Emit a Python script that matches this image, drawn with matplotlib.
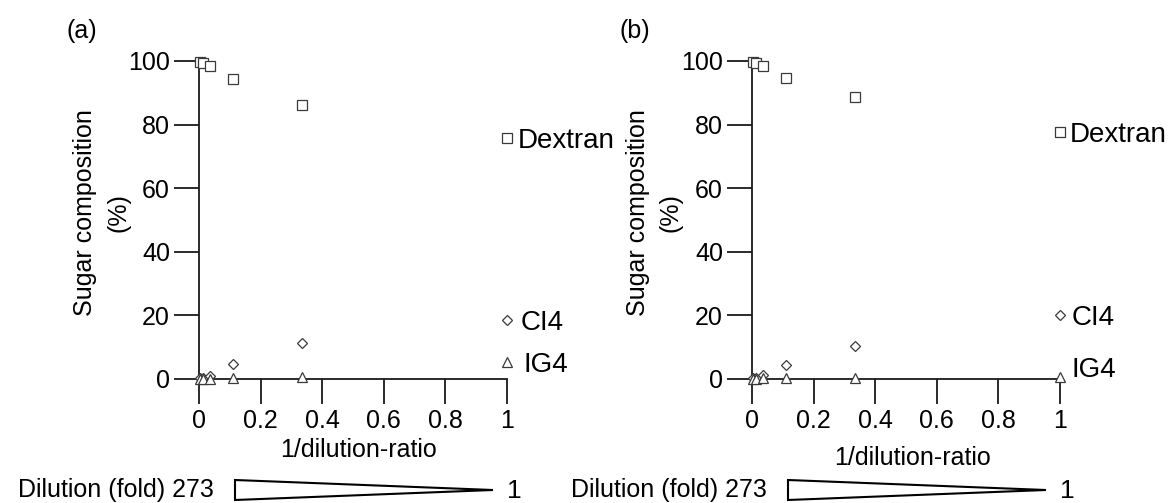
import matplotlib
matplotlib.use("Agg")
import matplotlib.pyplot as plt
from matplotlib.patches import Polygon

plt.rcParams["font.family"] = ["Liberation Sans", "DejaVu Sans"]

# Dilution series (fold) and the resulting 1/dilution-ratio
dilution_fold = [273, 81, 27, 9, 3, 1]
inv_ratio = [1.0 / d for d in dilution_fold]

# Sugar composition (%) for panel (a)
dextran_a = [99.6, 99.4, 98.5, 94.3, 86.2, 75.9]
ci4_a = [0.2, 0.3, 0.9, 4.6, 11.4, 18.4]
ig4_a = [0.1, 0.1, 0.1, 0.2, 0.7, 5.4]

# Sugar composition (%) for panel (b)
dextran_b = [99.7, 99.5, 98.4, 94.6, 88.6, 77.8]
ci4_b = [0.2, 0.3, 1.2, 4.4, 10.4, 20.1]
ig4_b = [0.1, 0.1, 0.3, 0.2, 0.3, 0.7]

series_names = ["Dextran", "CI4", "IG4"]
panel_labels = ["(a)", "(b)"]
x_ticks = [0, 0.2, 0.4, 0.6, 0.8, 1]
x_tick_labels = ["0", "0.2", "0.4", "0.6", "0.8", "1"]
y_ticks = [0, 20, 40, 60, 80, 100]
y_tick_labels = ["0", "20", "40", "60", "80", "100"]
dilution_ends = ["273", "1"]

W, H = 1175, 503
fig = plt.figure(figsize=(W / 100, H / 100), dpi=100)
fig.patch.set_facecolor("white")


def fx(x):
    return x / W


def fy(y):
    return 1 - y / H


def pt(p):
    # pixels -> points at 100 dpi
    return p * 0.72


EDGE = "#3a3a3a"
AXC = "#1a1a1a"
markers = [("s", 7.6), ("D", 4.6), ("^", 6.8)]

# per panel: x shift, data, label offsets (dx px, dy px), x-label baseline
panels = [
    (0, [dextran_a, ci4_a, ig4_a], [(11, 0), (14, 0), (16, 0)], 457),
    (553, [dextran_b, ci4_b, ig4_b], [(10, 0), (12, 0), (12, 10)], 465),
]

for (dx, data, offs, xlab_base), plabel in zip(panels, panel_labels):
    ax = fig.add_axes([fx(199 + dx), fy(379), fx(308), 318 / H])
    ax.set_xlim(0, 1)
    ax.set_ylim(0, 100)
    for side in ("top", "right"):
        ax.spines[side].set_visible(False)
    for side in ("left", "bottom"):
        ax.spines[side].set_linewidth(1.3)
        ax.spines[side].set_color(AXC)
    ax.set_xticks(x_ticks)
    ax.set_xticklabels(x_tick_labels)
    ax.set_yticks(y_ticks)
    ax.set_yticklabels(y_tick_labels)
    ax.tick_params(direction="out", length=18, width=1.3, color=AXC,
                   labelsize=18)
    ax.tick_params(axis="x", pad=3.4)
    ax.tick_params(axis="y", pad=2.8)
    ax.patch.set_alpha(0)

    for vals, (m, ms), name, (ox, oy) in zip(data, markers, series_names, offs):
        ax.plot(inv_ratio, vals, linestyle="none", marker=m, markersize=ms,
                markerfacecolor="white", markeredgecolor=EDGE,
                markeredgewidth=0.9, clip_on=False, zorder=5)
        # label sits beside the undiluted point, cap height centred on it
        ax.annotate(name, xy=(inv_ratio[-1], vals[-1]),
                    xytext=(pt(ox), pt(oy - 10)),
                    textcoords="offset points", ha="left", va="baseline",
                    fontsize=20, annotation_clip=False)

    fig.text(fx(66 + dx), fy(38), plabel, ha="left", va="baseline",
             fontsize=18)
    fig.text(fx(92 + dx), fy(213), "Sugar composition", rotation=90,
             rotation_mode="anchor", ha="center", va="baseline", fontsize=18)
    fig.text(fx(125 + dx), fy(213), "(%)", rotation=90,
             rotation_mode="anchor", ha="center", va="baseline", fontsize=18)
    fig.text(fx(359 + dx), fy(xlab_base), "1/dilution-ratio", ha="center",
             va="baseline", fontsize=18)

    # Dilution wedge under each panel
    fig.text(fx(214 + dx), fy(497), "Dilution (fold) " + dilution_ends[0],
             ha="right", va="baseline", fontsize=18)
    wedge = Polygon([(fx(235 + dx), fy(480)), (fx(235 + dx), fy(500)),
                     (fx(493 + dx), fy(490))], closed=True, fill=False,
                    edgecolor="black", linewidth=1.5, joinstyle="miter",
                    transform=fig.transFigure)
    fig.patches.append(wedge)
    fig.text(fx(507 + dx), fy(497.5), dilution_ends[1], ha="left",
             va="baseline", fontsize=19)

fig.savefig("out.png", dpi=100, facecolor="white")
